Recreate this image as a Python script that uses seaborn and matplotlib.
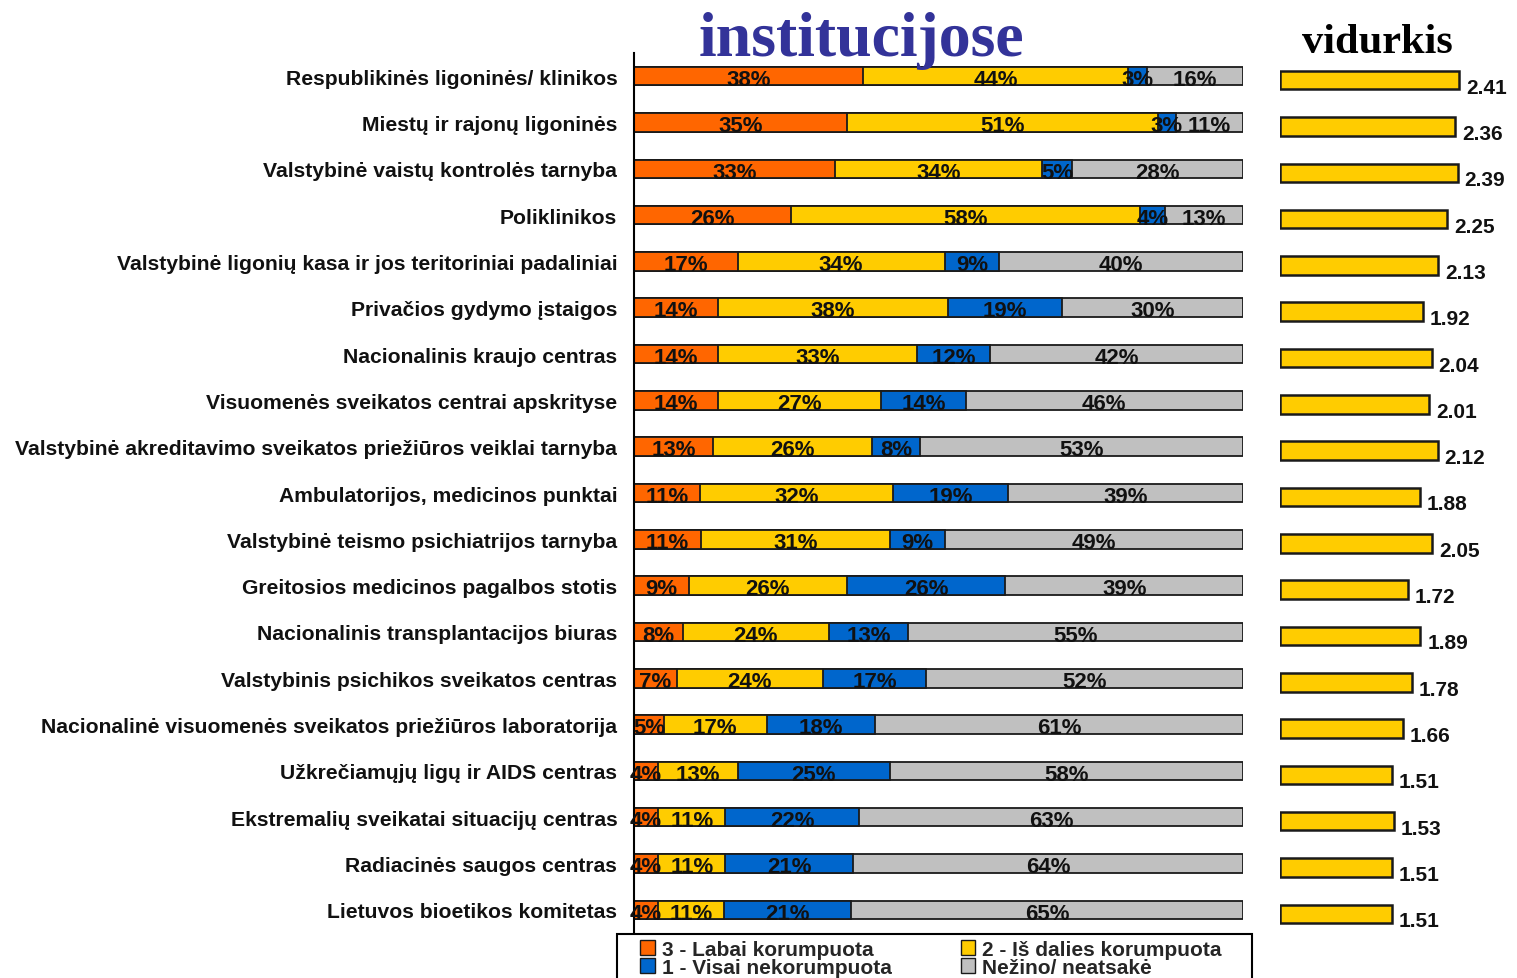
import numpy as np
import pandas as pd
import matplotlib
matplotlib.use('Agg')
import matplotlib.pyplot as plt
import seaborn as sns
from matplotlib.patches import Patch, Rectangle

institucijos = [
    'Respublikinės ligoninės/ klinikos',
    'Miestų ir rajonų ligoninės',
    'Valstybinė vaistų kontrolės tarnyba',
    'Poliklinikos',
    'Valstybinė ligonių kasa ir jos teritoriniai padaliniai',
    'Privačios gydymo įstaigos',
    'Nacionalinis kraujo centras',
    'Visuomenės sveikatos centrai apskrityse',
    'Valstybinė akreditavimo sveikatos priežiūros veiklai tarnyba',
    'Ambulatorijos, medicinos punktai',
    'Valstybinė teismo psichiatrijos tarnyba',
    'Greitosios medicinos pagalbos stotis',
    'Nacionalinis transplantacijos biuras',
    'Valstybinis psichikos sveikatos centras',
    'Nacionalinė visuomenės sveikatos priežiūros laboratorija',
    'Užkrečiamųjų ligų ir AIDS centras',
    'Ekstremalių sveikatai situacijų centras',
    'Radiacinės saugos centras',
    'Lietuvos bioetikos komitetas',
]
labai = [38, 35, 33, 26, 17, 14, 14, 14, 13, 11, 11, 9, 8, 7, 5, 4, 4, 4, 4]
is_dalies = [44, 51, 34, 58, 34, 38, 33, 27, 26, 32, 31, 26, 24, 24, 17, 13, 11, 11, 11]
visai_ne = [3, 3, 5, 4, 9, 19, 12, 14, 8, 19, 9, 26, 13, 17, 18, 25, 22, 21, 21]
nezino = [16, 11, 28, 13, 40, 30, 42, 46, 53, 39, 49, 39, 55, 52, 61, 58, 63, 64, 65]
vidurkis = [2.41, 2.36, 2.39, 2.25, 2.13, 1.92, 2.04, 2.01, 2.12, 1.88,
            2.05, 1.72, 1.89, 1.78, 1.66, 1.51, 1.53, 1.51, 1.51]

serijos = ['3 - Labai korumpuota', '2 - Iš dalies korumpuota',
           '1 - Visai nekorumpuota', 'Nežino/ neatsakė']
spalvos = ['#FF6600', '#FFCC00', '#0066CC', '#C0C0C0']

df = pd.DataFrame({'inst': institucijos, 'a': labai, 'b': is_dalies,
                   'c': visai_ne, 'd': nezino, 'vid': vidurkis})
vals = df[['a', 'b', 'c', 'd']].to_numpy(dtype=float)
# bars fill the whole width, so scale each row to 100
norm = vals / vals.sum(axis=1, keepdims=True) * 100
cum = norm.cumsum(axis=1)

sns.set_style('white')
plt.rcParams['font.family'] = ['Liberation Sans', 'DejaVu Sans']
plt.rcParams['font.weight'] = 'bold'

W, H = 1517, 979
fig = plt.figure(figsize=(W / 100, H / 100), dpi=100)
ax = fig.add_axes([634 / W, 1 - 934 / H, 609 / W, 880 / H])
ax2 = fig.add_axes([1280 / W, 1 - 938 / H, 223 / W, 880 / H])

# stacked bars: draw the cumulative totals from the largest down
for k in range(3, -1, -1):
    sns.barplot(x=cum[:, k], y=df['inst'], orient='h', color=spalvos[k],
                saturation=1, width=0.4, edgecolor='#1a1a1a', linewidth=1.3, ax=ax)

for i in range(len(df)):
    left = 0
    for k in range(4):
        mid = left + norm[i, k] / 2
        ax.text(mid, i + 0.07, f'{int(vals[i, k])}%', ha='center', va='center',
                fontsize=16, fontweight='bold', color='#111111')
        left += norm[i, k]

ax.set_xlim(0, 100)
ax.set_ylim(len(df) - 0.5, -0.5)
ax.set_xlabel('')
ax.set_ylabel('')
ax.set_xticks([])
for s in ['top', 'right', 'bottom']:
    ax.spines[s].set_visible(False)
ax.spines['left'].set_linewidth(1.5)
ax.spines['left'].set_color('black')
ax.set_yticks(np.arange(len(df)))
ax.set_yticklabels(df['inst'], fontsize=15.2, fontweight='bold', color='#111111')
ax.set_yticks(np.arange(len(df) + 1) - 0.5, minor=True)
ax.tick_params(axis='y', which='major', length=0, pad=12)
ax.tick_params(axis='y', which='minor', length=5, width=1.5, direction='out', color='black')

# averages
sns.barplot(x=df['vid'], y=df['inst'], orient='h', color='#FFCC00', saturation=1,
            width=0.4, edgecolor='#1a1a1a', linewidth=1.8, ax=ax2)
for i, v in enumerate(vidurkis):
    ax2.text(v + 0.09, i + 0.15, f'{v:.2f}', ha='left', va='center',
             fontsize=15, fontweight='bold', color='#111111')
ax2.set_xlim(0, 3)
ax2.set_ylim(len(df) - 0.5, -0.5)
ax2.axis('off')

fig.text(861 / W, 1 - 56 / H, 'institucijose', ha='center', va='baseline',
         fontsize=46, fontweight='bold', family='Liberation Serif', color='#333399')
fig.text(1377 / W, 1 - 53 / H, 'vidurkis', ha='center', va='baseline',
         fontsize=30.5, fontweight='bold', family='Liberation Serif', color='black')

# legend frame runs off the bottom edge like in the source
fig.patches.append(Rectangle((617 / W, -0.02), (1252 - 617) / W, (0.02 + 1 - 935 / H),
                             transform=fig.transFigure, facecolor='white',
                             edgecolor='black', linewidth=1.5, zorder=0))
handles = [Patch(facecolor=c, edgecolor='#1a1a1a', linewidth=1) for c in spalvos]
order = [0, 2, 1, 3]
leg = fig.legend([handles[o] for o in order], [serijos[o] for o in order],
                 loc='upper left', bbox_to_anchor=(640 / W, 1 - 941 / H), ncol=2,
                 frameon=False, fontsize=15,
                 handlelength=0.7, handleheight=0.7, handletextpad=0.35,
                 labelspacing=-0.05, columnspacing=3.3, borderpad=0,
                 borderaxespad=0)
for t in leg.get_texts():
    t.set_fontweight('bold')

fig.savefig('out.png', dpi=100)
